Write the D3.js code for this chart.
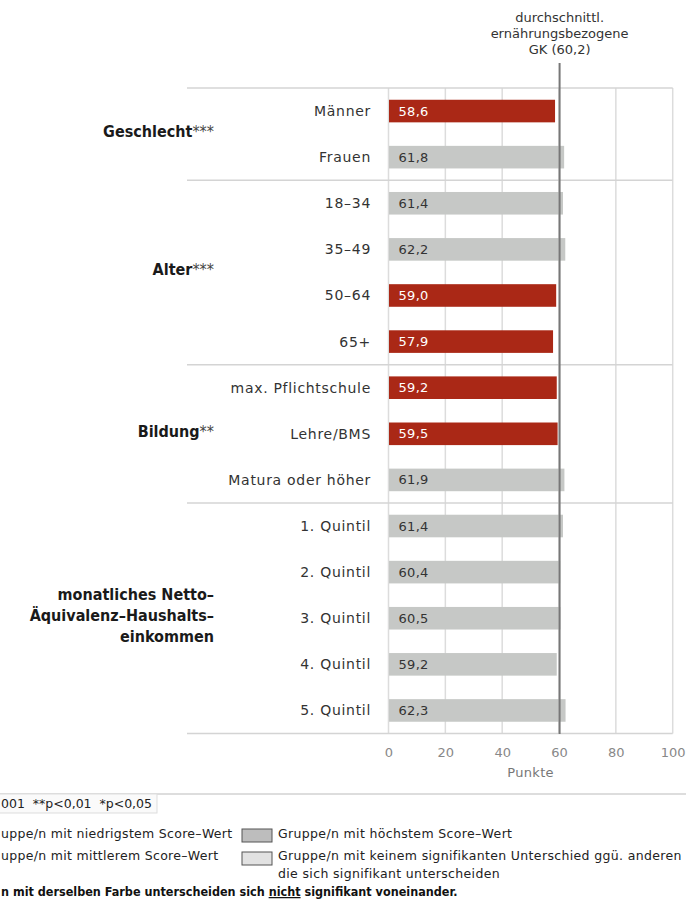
<!DOCTYPE html>
<html lang="de">
<head>
<meta charset="UTF-8">
<title>Ernährungsbezogene GK nach Gruppen</title>
<script src="https://d3js.org/d3.v7.min.js"></script>
<style>
    html, body {
        margin: 0;
        padding: 0;
        background: #fff;
    }
    svg text {
        font-family: 'DejaVu Sans', sans-serif;
    }
</style>
</head>
<body>
<div id="chart"></div>
<script>

// --- data ---
var categories = ["Männer", "Frauen", "18–34", "35–49", "50–64", "65+",
    "max. Pflichtschule", "Lehre/BMS", "Matura oder höher",
    "1. Quintil", "2. Quintil", "3. Quintil", "4. Quintil", "5. Quintil"];
var values = [58.6, 61.8, 61.4, 62.2, 59.0, 57.9, 59.2, 59.5, 61.9, 61.4, 60.4, 60.5, 59.2, 62.3];
// "low" = lowest score group (red), others grey
var levels = ["low", "other", "other", "other", "low", "low", "low", "low", "other",
    "other", "other", "other", "other", "other"];

var groupNames = ["Geschlecht", "Alter", "Bildung", "monatliches Netto–|Äquivalenz–Haushalts–|einkommen"];
var groupStars = ["***", "***", "**", ""];
var groupSizes = [2, 4, 3, 5];

var average = 60.2;
var averageLabel = ["durchschnittl.", "ernährungsbezogene", "GK (60,2)"];
var xTicks = [0, 20, 40, 60, 80, 100];
var xTitle = "Punkte";

// legend texts (the picture is cropped on the left, only the visible parts)
var pLegend = "001  **p<0,01  *p<0,05";
var legendLeft = ["uppe/n mit niedrigstem Score–Wert", "uppe/n mit mittlerem Score–Wert"];
var legendRight = ["Gruppe/n mit höchstem Score–Wert", "Gruppe/n mit keinem signifikanten Unterschied ggü. anderen|die sich signifikant unterscheiden"];
var legendSwatch = ['#bdbdbd', '#e2e2e2'];
var noteParts = ["n mit derselben Farbe unterscheiden sich ", "nicht", " signifikant voneinander."];

var W = 686, H = 908;

var svg = d3.select('#chart')
    .append('svg')
    .attr('width', W)
    .attr('height', H);

var x = d3.scaleLinear()
    .domain([0, 100])
    .range([388.5, 672.7]);

var y = d3.scaleBand()
    .domain(categories)
    .range([88, 733.5])
    .paddingInner(0.51)
    .paddingOuter(0.255);

var colour = { low: '#aa2816', other: '#c6c8c6' };
var left = 187;

// vertical grid lines
svg.append('g')
    .selectAll('line')
    .data(xTicks)
    .enter()
    .append('line')
    .attr('x1', function(d) { return x(d); })
    .attr('x2', function(d) { return x(d); })
    .attr('y1', 88)
    .attr('y2', 733.5)
    .attr('stroke', '#dcdcdc')
    .attr('stroke-width', 1.5);

// group separators
var bounds = [0];
groupSizes.forEach(function(s, i) { bounds.push(bounds[i] + s); });
var step = y.step();

svg.append('g')
    .selectAll('line')
    .data(bounds)
    .enter()
    .append('line')
    .attr('x1', left)
    .attr('x2', x(100))
    .attr('y1', function(d) { return 88 + d * step; })
    .attr('y2', function(d) { return 88 + d * step; })
    .attr('stroke', '#d4d4d4')
    .attr('stroke-width', 1.5);

// bars
svg.append('g')
    .selectAll('rect')
    .data(categories)
    .enter()
    .append('rect')
    .attr('x', x(0) + 0.5)
    .attr('y', function(d) { return y(d); })
    .attr('width', function(d, i) { return x(values[i]) - x(0) - 0.5; })
    .attr('height', y.bandwidth())
    .attr('fill', function(d, i) { return colour[levels[i]]; });

// value labels
svg.append('g')
    .selectAll('text')
    .data(categories)
    .enter()
    .append('text')
    .attr('x', x(0) + 10)
    .attr('y', function(d) { return y(d) + y.bandwidth() / 2 + 4.5; })
    .attr('font-size', 13)
    .attr('fill', function(d, i) { return levels[i] == 'low' ? '#fff' : '#333'; })
    .style('letter-spacing', '0.3px')
    .text(function(d, i) { return values[i].toFixed(1).replace('.', ','); });

// category labels
svg.append('g')
    .selectAll('text')
    .data(categories)
    .enter()
    .append('text')
    .attr('x', 371)
    .attr('y', function(d) { return y(d) + y.bandwidth() / 2 + 5; })
    .attr('text-anchor', 'end')
    .attr('font-size', 14)
    .attr('fill', '#333')
    .style('letter-spacing', '0.7px')
    .text(function(d) { return d; });

// group labels
groupNames.forEach(function(name, i) {
    var mid = 88 + (bounds[i] + groupSizes[i] / 2) * step;
    var lines = name.split('|');
    var t = svg.append('text')
        .attr('text-anchor', 'end')
        .attr('font-size', 16)
        .attr('font-weight', 'bold')
        .attr('fill', '#1a1a1a')
        .style('font-family', "'DejaVu Sans Condensed', 'DejaVu Sans', sans-serif")
        .style('font-stretch', 'condensed');
    lines.forEach(function(l, j) {
        t.append('tspan')
            .attr('x', 214)
            .attr('y', mid + 3 + (j - (lines.length - 1) / 2) * 21)
            .text(l);
        if (j == lines.length - 1 && groupStars[i]) {
            t.append('tspan')
                .attr('font-weight', 'normal')
                .attr('font-size', 16)
                .attr('fill', '#444')
                .text(groupStars[i]);
        }
    });
});

// average line
svg.append('line')
    .attr('x1', x(average))
    .attr('x2', x(average))
    .attr('y1', 63)
    .attr('y2', 734)
    .attr('stroke', '#777')
    .attr('stroke-width', 2);

svg.append('g')
    .selectAll('text')
    .data(averageLabel)
    .enter()
    .append('text')
    .attr('x', x(average))
    .attr('y', function(d, i) { return 22 + i * 16; })
    .attr('text-anchor', 'middle')
    .attr('font-size', 13)
    .attr('fill', '#333')
    .text(function(d) { return d; });

// x axis
var xAxis = d3.axisBottom(x)
    .tickValues(xTicks)
    .tickSize(0)
    .tickPadding(0);

var ax = svg.append('g')
    .attr('transform', 'translate(0,' + 745 + ')')
    .call(xAxis);
ax.select('.domain').remove();
ax.selectAll('text')
    .attr('dy', '0.95em')
    .attr('font-size', 13)
    .attr('fill', '#888')
    .style('font-family', "'DejaVu Sans', sans-serif");

svg.append('text')
    .attr('x', (x(0) + x(100)) / 2)
    .attr('y', 777)
    .attr('text-anchor', 'middle')
    .attr('font-size', 13)
    .attr('fill', '#777')
    .style('letter-spacing', '0.3px')
    .text(xTitle);

// --- legend ---
svg.append('line')
    .attr('x1', 0).attr('x2', W)
    .attr('y1', 794).attr('y2', 794)
    .attr('stroke', '#bbb')
    .attr('stroke-width', 1.2);

svg.append('rect')
    .attr('x', -120).attr('y', 794)
    .attr('width', 277).attr('height', 19)
    .attr('fill', '#fafafa')
    .attr('stroke', '#ddd');

svg.append('text')
    .attr('x', 1).attr('y', 808)
    .attr('font-size', 12.5)
    .attr('fill', '#222')
    .attr('textLength', 151)
    .style('white-space', 'pre')
    .text(pLegend);

legendLeft.forEach(function(l, i) {
    svg.append('text')
        .attr('x', 1).attr('y', 838 + i * 22)
        .attr('font-size', 12.5)
        .attr('fill', '#222')
        .style('letter-spacing', '0.3px')
        .text(l);
});

legendRight.forEach(function(l, i) {
    svg.append('rect')
        .attr('x', 242).attr('y', 829 + i * 23)
        .attr('width', 30).attr('height', 13)
        .attr('fill', legendSwatch[i])
        .attr('stroke', '#555');
    l.split('|').forEach(function(s, j) {
        svg.append('text')
            .attr('x', 278).attr('y', 838 + i * 22 + j * 18)
            .attr('font-size', 12.5)
            .attr('fill', '#222')
            .style('letter-spacing', '0.35px')
            .text(s);
    });
});

var note = svg.append('text')
    .attr('x', 1).attr('y', 896)
    .attr('font-size', 12.5)
    .attr('font-weight', 'bold')
    .attr('fill', '#111')
    .style('font-family', "'DejaVu Sans Condensed', 'DejaVu Sans', sans-serif")
    .style('font-stretch', 'condensed');
note.append('tspan').text(noteParts[0]);
note.append('tspan').style('text-decoration', 'underline').text(noteParts[1]);
note.append('tspan').text(noteParts[2]);

</script>
</body>
</html>
